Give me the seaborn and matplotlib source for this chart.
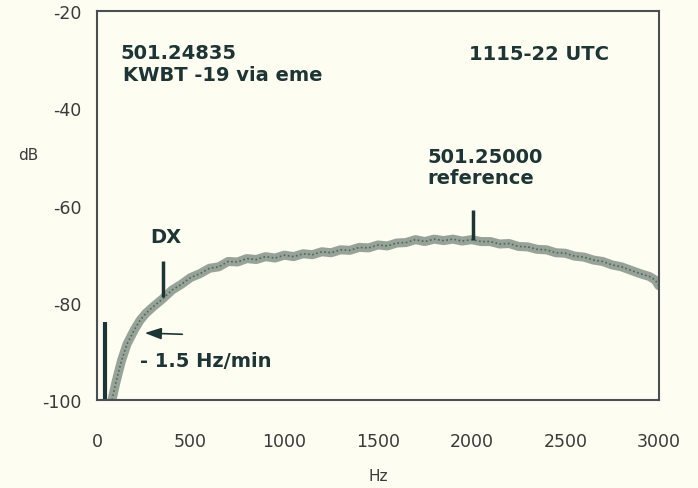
import matplotlib
matplotlib.use("Agg")
import matplotlib.pyplot as plt
import seaborn as sns
import pandas as pd

# Spectrum (Hz, dB)
freq_hz = [80, 100, 130, 160, 200, 230, 260, 300, 350, 400, 450, 500, 550, 600,
           650, 700, 750, 800, 850, 900, 950, 1000, 1050, 1100, 1150, 1200, 1250,
           1300, 1350, 1400, 1450, 1500, 1550, 1600, 1650, 1700, 1750, 1800, 1850,
           1900, 1950, 2000, 2050, 2100, 2150, 2200, 2250, 2300, 2350, 2400, 2450,
           2500, 2550, 2600, 2650, 2700, 2750, 2800, 2850, 2900, 2950, 2980, 3000]
level_db = [-100, -96.5, -92, -88.5, -85.5, -83.6, -82.2, -80.8, -79.2, -77.4, -76.2,
            -74.8, -74.0, -72.9, -72.6, -71.5, -71.6, -70.9, -71.1, -70.5, -70.8, -70.2,
            -70.5, -69.9, -70.1, -69.5, -69.7, -69.1, -69.2, -68.6, -68.7, -68.1, -68.3,
            -67.7, -67.6, -67.0, -67.4, -66.9, -67.2, -66.9, -67.3, -67.0, -67.4, -67.4,
            -67.9, -67.8, -68.4, -68.5, -69.0, -69.1, -69.7, -69.8, -70.4, -70.6, -71.2,
            -71.5, -72.2, -72.6, -73.3, -74.0, -74.6, -75.3, -76.5]

spike_hz, spike_top = 43, -84
dx_hz, dx_top, dx_bottom = 352, -71.5, -78.8
ref_hz, ref_top, ref_bottom = 2005, -61, -67

x_ticks = [0, 500, 1000, 1500, 2000, 2500, 3000]
y_ticks = [-20, -40, -60, -80, -100]

bg = "#fdfdf1"
ink = "#1e3535"
axis_col = "#4a4f55"
curve_col = "#85948a"

sns.set_style("white")
plt.rcParams["font.family"] = ["DejaVu Sans"]
plt.rcParams["axes.unicode_minus"] = False

fig = plt.figure(figsize=(6.98, 4.89), dpi=100, facecolor=bg)
ax = fig.add_axes([0.139, 0.180, 0.805, 0.795])
ax.set_facecolor(bg)

df = pd.DataFrame({"Hz": freq_hz, "dB": level_db})
sns.lineplot(data=df, x="Hz", y="dB", ax=ax, color=curve_col, lw=6.5, alpha=0.85)
sns.lineplot(data=df, x="Hz", y="dB", ax=ax, color="#4f6655", lw=1.2, ls=(0, (1, 1.5)))

ax.vlines(spike_hz, -100, spike_top, color=ink, lw=3)
ax.vlines(dx_hz, dx_bottom, dx_top, color=ink, lw=2.5)
ax.vlines(ref_hz, ref_bottom, ref_top, color=ink, lw=2.5)
ax.annotate("", xy=(240, -86.2), xytext=(470, -86.5),
            arrowprops=dict(arrowstyle="-|>,head_length=1.0,head_width=0.35",
                            color=ink, lw=1.2))

txt = dict(color=ink, fontsize=14, va="center", weight="bold")
ax.text(123, -28.4, "501.24835", **txt)
ax.text(140, -33.0, "KWBT -19 via eme", **txt)
ax.text(1985, -28.8, "1115-22 UTC", **txt)
ax.text(1765, -49.8, "501.25000", **txt)
ax.text(1765, -54.3, "reference", **txt)
ax.text(285, -66.3, "DX", **txt)
ax.text(232, -91.8, "- 1.5 Hz/min", **txt)

ax.set_xlim(0, 3000)
ax.set_ylim(-100, -20)
ax.set_xticks(x_ticks)
ax.set_yticks(y_ticks)
ax.tick_params(axis="both", direction="out", length=9, width=1.2, color=axis_col,
               labelsize=12.5, labelcolor="#3a3a3a")
ax.tick_params(axis="x", pad=14)
ax.tick_params(axis="y", pad=2)
for s in ax.spines.values():
    s.set_color(axis_col)
    s.set_linewidth(1.5)

ax.set_xlabel("Hz", fontsize=11, color="#3a3a3a")
ax.set_ylabel("dB", fontsize=11, color="#3a3a3a", rotation=0)
ax.xaxis.set_label_coords(0.5, -0.176)
ax.yaxis.set_label_coords(-0.123, 0.612)
ax.grid(False)

fig.savefig("out.png", dpi=100, facecolor=bg)
